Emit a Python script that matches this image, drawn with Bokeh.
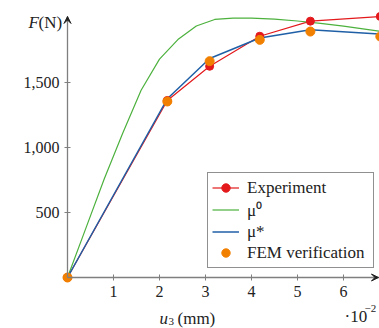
from bokeh.plotting import figure
from bokeh.models import (Range1d, FixedTicker, Legend, LegendItem, Label, Arrow,
                          VeeHead, CustomJSTickFormatter)
from bokeh.embed import file_html
from bokeh.resources import INLINE

# ---- data (u3 in 1e-2 mm, F in N) ----
exp_x = [0, 2.17, 3.09, 4.18, 5.28, 6.8]
exp_y = [0, 1362, 1625, 1856, 1972, 2008]

mu0_x = [0, 0.4, 0.8, 1.2, 1.6, 2.0, 2.4, 2.8, 3.2, 3.6, 4.0, 4.5, 5.0, 5.5, 6.0, 6.5, 6.8]
mu0_y = [0, 380, 760, 1110, 1440, 1680, 1830, 1935, 1985, 1995, 1995, 1987, 1973, 1955, 1933, 1908, 1893]

mustar_x = [0, 2.17, 3.09, 4.18, 5.28, 6.8]
mustar_y = [0, 1375, 1685, 1842, 1905, 1872]

fem_x = [0, 2.17, 3.09, 4.18, 5.28, 6.8]
fem_y = [0, 1354, 1664, 1828, 1892, 1854]

x_ticks = [1, 2, 3, 4, 5, 6]
y_ticks = [500, 1000, 1500]

RED = "#e3191c"
GREEN = "#4cb13d"
BLUE = "#1f5fa6"
ORANGE = "#f28000"
AXIS = "#7f7f7f"
TXT = "#222222"
FONT = "Liberation Serif"

W, H = 379, 328
X0, Y0 = 67, 277          # pixel position of the origin
PX_X, PX_Y = 46.0, 0.13   # pixels per x unit / per newton
X_END, Y_END = 6.78, 2008

def dx(px):
    return (px - X0) / PX_X

def dy(py):
    return (Y0 - py) / PX_Y

p = figure(width=W, height=H, output_backend="svg", toolbar_location=None,
           x_range=Range1d(dx(0), dx(W)), y_range=Range1d(dy(H), dy(0)),
           min_border=0)
p.outline_line_color = None
p.grid.visible = False
p.background_fill_color = "white"

p.xaxis.fixed_location = 0
p.yaxis.fixed_location = 0
p.xaxis.bounds = (0, X_END)
p.yaxis.bounds = (0, Y_END)

for ax in (p.xaxis[0], p.yaxis[0]):
    ax.axis_line_color = AXIS
    ax.axis_line_width = 1.3
    ax.major_tick_line_color = AXIS
    ax.major_tick_in = 3
    ax.major_tick_out = 3
    ax.minor_tick_line_color = None
    ax.major_label_text_font = FONT
    ax.major_label_text_font_size = "16px"
    ax.major_label_text_color = TXT
    ax.major_label_standoff = 5

p.xaxis.ticker = FixedTicker(ticks=x_ticks)
p.yaxis.ticker = FixedTicker(ticks=y_ticks)
p.yaxis.formatter = CustomJSTickFormatter(code="return tick.toLocaleString('en-US');")

# axis arrow heads
p.add_layout(Arrow(end=VeeHead(size=7, fill_color=TXT, line_color=TXT),
                   x_start=0, y_start=1950, x_end=0, y_end=Y_END, line_alpha=0))
p.add_layout(Arrow(end=VeeHead(size=7, fill_color=TXT, line_color=TXT),
                   x_start=6.5, y_start=0, x_end=6.76, y_end=0, line_alpha=0))

r_exp_line = p.line(exp_x, exp_y, line_color=RED, line_width=1.2)
r_mu0 = p.line(mu0_x, mu0_y, line_color=GREEN, line_width=1.2)
r_mus = p.line(mustar_x, mustar_y, line_color=BLUE, line_width=1.5)
r_exp_pts = p.scatter(exp_x, exp_y, size=8, fill_color=RED, line_color=RED)
r_fem = p.scatter(fem_x, fem_y, size=9, fill_color=ORANGE, line_color=ORANGE)

legend = Legend(items=[
    LegendItem(label="Experiment", renderers=[r_exp_line, r_exp_pts]),
    LegendItem(label="μ⁰", renderers=[r_mu0]),
    LegendItem(label="μ*", renderers=[r_mus]),
    LegendItem(label="FEM verification", renderers=[r_fem]),
], location=(207, H - 268))
legend.label_text_font = FONT
legend.label_text_font_size = "17px"
legend.label_text_color = TXT
legend.label_height = 21
legend.glyph_height = 21
legend.glyph_width = 27
legend.label_standoff = 8
legend.label_width = 122
legend.spacing = 0
legend.padding = 4
legend.margin = 0
legend.border_line_color = TXT
legend.border_line_width = 1
legend.background_fill_alpha = 1
p.add_layout(legend, "center")

def lab(x, y_top, text, size="17px", style="normal"):
    # x, y_top: pixel position (from top-left) of the text baseline start
    p.add_layout(Label(x=x, y=H - y_top, x_units="screen", y_units="screen", text=text,
                       text_font=FONT, text_font_style=style, text_font_size=size,
                       text_color=TXT, text_baseline="alphabetic"))

lab(28, 22, "F", style="italic")
lab(38, 22, "(N)")
lab(159, 318, "u", style="italic")
lab(168, 321, "3", size="11px")
lab(177, 318, "(mm)")
lab(344, 316, "·10")
lab(364, 308, "−2", size="11px")

open("out.html", "w").write(file_html(p, INLINE))
